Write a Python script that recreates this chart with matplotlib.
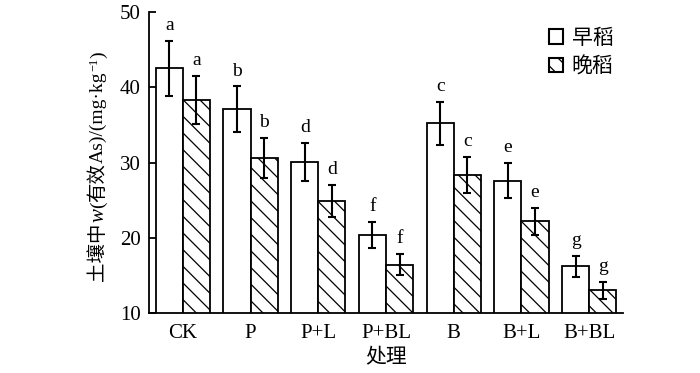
import numpy as np
import matplotlib
matplotlib.use("Agg")
import matplotlib.pyplot as plt
from matplotlib.patches import Patch
from matplotlib.transforms import IdentityTransform

categories = ["CK", "P", "P+L", "P+BL", "B", "B+L", "B+BL"]
early = [42.5, 37.1, 30.1, 20.4, 35.2, 27.6, 16.2]
early_err = [3.6, 3.0, 2.5, 1.7, 2.9, 2.3, 1.4]
late = [38.3, 30.6, 24.9, 16.4, 28.3, 22.2, 13.0]
late_err = [3.2, 2.6, 2.1, 1.4, 2.4, 1.8, 1.1]
early_letters = ["a", "b", "d", "f", "c", "e", "g"]
late_letters = ["a", "b", "d", "f", "c", "e", "g"]
legend_labels = ["早稻", "晚稻"]
yticks = [10, 20, 30, 40, 50]

SERIF = "Liberation Serif"
CJK = "Noto Sans CJK SC"
plt.rcParams["font.family"] = [SERIF, CJK, "DejaVu Sans"]
plt.rcParams["hatch.linewidth"] = 0.9

fig = plt.figure(figsize=(7.0, 3.73), dpi=100)
ax = fig.add_axes([149/700, 1-313/373, (623-149)/700, (313-12)/373])

x = np.arange(len(categories))
w = 0.4
ekw = dict(elinewidth=1.5, capthick=1.5, ecolor="black")
ax.bar(x - w/2, early, w, bottom=0, color="white", edgecolor="black", linewidth=1.3,
       yerr=early_err, capsize=3, error_kw=ekw, zorder=2)
ax.bar(x + w/2, late, w, bottom=0, color="white", edgecolor="black", linewidth=1.3,
       hatch="\\\\", yerr=late_err, capsize=3, error_kw=ekw, zorder=2)

for xi, v, e, t in zip(x - w/2, early, early_err, early_letters):
    ax.annotate(t, (xi, v + e), xytext=(0, 5), textcoords="offset points",
                ha="center", va="bottom", fontsize=14, family=SERIF)
for xi, v, e, t in zip(x + w/2, late, late_err, late_letters):
    ax.annotate(t, (xi, v + e), xytext=(0, 5), textcoords="offset points",
                ha="center", va="bottom", fontsize=14, family=SERIF)

ax.set_xlim(-0.5, 6.5)
ax.set_ylim(10, 50)
ax.set_yticks(yticks)
ax.set_xticks(x)
ax.set_xticklabels(categories, fontsize=15, family=SERIF)
ax.tick_params(axis="y", direction="in", length=5, width=1.3, labelsize=15, pad=6)
ax.tick_params(axis="x", length=0, pad=8)
for lab in ax.get_yticklabels():
    lab.set_family(SERIF)
ax.spines["top"].set_visible(False)
ax.spines["right"].set_visible(False)
ax.spines["left"].set_linewidth(1.3)
ax.spines["bottom"].set_linewidth(1.3)
ax.set_xlabel("处理", fontsize=15, family=CJK, labelpad=2)

handles = [Patch(facecolor="white", edgecolor="black", linewidth=1.5),
           Patch(facecolor="white", edgecolor="black", linewidth=1.5, hatch="\\\\")]
leg = ax.legend(handles, legend_labels, loc="upper right", bbox_to_anchor=(0.98, 0.95),
                frameon=False, handlelength=0.7, handleheight=0.7, handletextpad=0.4,
                labelspacing=0.3, borderpad=0, borderaxespad=0,
                prop={"family": CJK, "size": 15})

# y label assembled from pieces (mixed fonts)
fig.canvas.draw()
r = fig.canvas.get_renderer()
pieces = [("土壤中", CJK, "normal", 14, 0),
          ("w", SERIF, "italic", 15, 0),
          ("(", SERIF, "normal", 14, 0),
          ("有效", CJK, "normal", 14, 0),
          ("As)/(mg·kg", SERIF, "normal", 14, 0),
          ("−1", SERIF, "normal", 9, 6),
          (")", SERIF, "normal", 14, 0)]
texts = []
total = 0
for s, fam, sty, sz, rise in pieces:
    t = fig.text(0, 0, s, family=fam, style=sty, fontsize=sz, rotation=90,
                 rotation_mode="anchor", ha="left", va="baseline",
                 transform=IdentityTransform())
    h = t.get_window_extent(r).height
    texts.append((t, h, rise))
    total += h
base_x = 103
cy = 373 - 166
ypos = cy - total / 2
for t, h, rise in texts:
    t.set_position((base_x - rise, ypos))
    ypos += h

fig.savefig("out.png", dpi=100)
